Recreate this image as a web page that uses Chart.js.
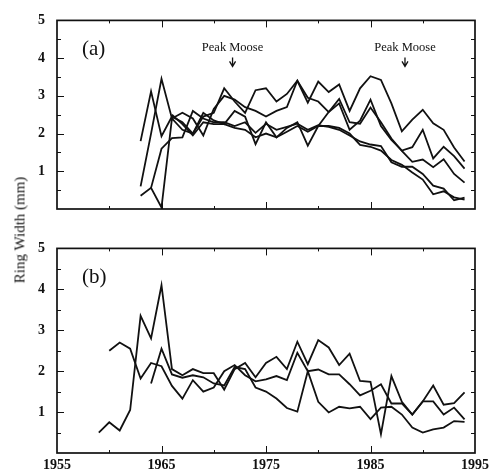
<!DOCTYPE html>
<html>
<head>
<meta charset="utf-8">
<script src="https://cdn.jsdelivr.net/npm/chart.js@4.4.1/dist/chart.umd.min.js"></script>
<style>
  body { margin: 0; background: #fff; }
  #wrap { position: relative; width: 495px; height: 474px; }
  #ca { position: absolute; left: 0; top: 0; }
  #cb { position: absolute; left: 0; top: 228px; }
  #ylab {
    position: absolute; left: 20px; top: 230px;
    transform: translate(-50%, -50%) rotate(-90deg);
    font: 15px "Liberation Serif", serif; color: #111; white-space: nowrap;
  }
</style>
</head>
<body>
<div id="wrap">
  <canvas id="ca" width="495" height="235"></canvas>
  <canvas id="cb" width="495" height="246"></canvas>
  <div id="ylab">Ring Width (mm)</div>
</div>
<script>
//years for each panel
const yearsA = [1963,1964,1965,1966,1967,1968,1969,1970,1971,1972,1973,1974,1975,1976,1977,1978,
  1979,1980,1981,1982,1983,1984,1985,1986,1987,1988,1989,1990,1991,1992,1993,1994];
const yearsB = [1959,1960,1961,1962,1963,1964,1965,1966,1967,1968,1969,1970,1971,1972,1973,1974,1975,1976,
  1977,1978,1979,1980,1981,1982,1983,1984,1985,1986,1987,1988,1989,1990,1991,1992,1993,1994];

//panel (a) ring widths, mm (null = no ring)
const treeA1 = [1.8,3.12,1.93,2.45,2.3,2.0,2.45,2.55,3.2,2.85,2.55,3.15,3.2,2.85,3.05,3.4,
  2.82,3.38,3.1,3.3,2.6,3.2,3.52,3.42,2.8,2.06,2.37,2.63,2.27,2.1,1.63,1.26];
const treeA2 = [0.6,2.0,3.45,2.4,2.55,2.4,1.95,2.65,3.0,2.9,2.7,2.6,2.45,2.6,2.7,3.4,
  2.95,2.85,2.57,2.8,2.1,2.34,2.9,2.2,1.83,1.55,1.64,2.1,1.34,1.65,1.4,1.07];
const treeA3 = [0.35,0.56,0.04,2.4,2.1,2.0,2.55,2.35,2.25,2.6,2.45,1.72,2.3,1.9,2.15,2.3,
  1.68,2.2,2.57,2.92,2.3,2.26,2.69,2.3,1.87,1.54,1.25,1.31,1.11,1.32,0.93,0.70];
const treeA4 = [null,0.56,1.6,1.88,1.9,2.6,2.4,2.3,2.3,2.2,2.3,2.02,2.26,2.1,2.18,2.26,
  2.1,2.22,2.18,2.1,1.95,1.79,1.71,1.67,1.24,1.12,1.12,0.93,0.62,0.54,0.23,0.30];
const treeA5 = [null,null,null,2.5,2.25,1.95,2.3,2.25,2.25,2.15,2.1,1.9,2.0,1.9,2.05,2.2,
  2.05,2.2,2.2,2.15,2.0,1.7,1.65,1.55,1.3,1.17,0.97,0.78,0.39,0.47,0.31,0.25];

//panel (b)
const treeB1 = [0.5,0.75,0.55,1.05,3.35,2.8,4.1,2.05,1.9,2.05,1.95,1.95,1.55,2.05,2.2,1.85,2.2,2.35,
  2.05,2.72,2.17,2.76,2.58,2.15,2.43,1.76,1.74,0.46,1.88,1.25,0.94,1.26,1.65,1.18,1.22,1.48];
const treeB2 = [null,2.5,2.7,2.55,1.82,2.2,2.12,1.64,1.33,1.78,1.5,1.6,2.0,2.15,1.9,1.75,1.8,1.88,
  1.78,2.45,2.0,2.04,1.92,1.92,1.68,1.41,1.52,1.68,1.21,1.21,0.94,1.26,1.26,0.94,1.11,0.82];
const treeB3 = [null,null,null,null,null,1.7,2.55,1.92,1.84,1.9,1.85,1.7,1.65,2.1,2.05,1.6,1.5,1.33,
  1.1,1.01,2.0,1.25,0.99,1.13,1.09,1.13,0.83,1.11,1.13,0.94,0.62,0.5,0.58,0.62,0.78,0.76];

//axis ticks
const xTickVals = [1955,1965,1975,1985,1995];
const yTickVals = [1,2,3,4,5];

//peak moose markers (year)
const moosePeaks = [1971.8, 1988.3];

const serif = '"Liberation Serif", "Times New Roman", serif';

//box, inward ticks and panel text
const frame = {
  id: 'frame',
  afterDraw(chart, args, opts) {
    const {ctx, chartArea: a} = chart;
    const x = chart.scales.x, y = chart.scales.y;
    ctx.save();
    ctx.strokeStyle = '#111';
    ctx.lineWidth = 1.7;
    ctx.strokeRect(a.left, a.top, a.right - a.left, a.bottom - a.top);
    ctx.lineWidth = 1;
    ctx.beginPath();
    for (let v = 0.5; v < 5; v += 0.5) {
      const py = Math.round(y.getPixelForValue(v)) + 0.5;
      const big = v % 1 === 0;
      ctx.moveTo(a.left, py); ctx.lineTo(a.left + (big ? 7 : 4), py);
      ctx.moveTo(a.right, py); ctx.lineTo(a.right - 4, py);
    }
    for (let yr = 1960; yr < 1995; yr += 5) {
      const px = Math.round(x.getPixelForValue(yr)) + 0.5;
      const big = yr % 10 === 5;
      ctx.moveTo(px, a.top); ctx.lineTo(px, a.top + (big ? 7 : 3));
      ctx.moveTo(px, a.bottom); ctx.lineTo(px, a.bottom - (big ? 7 : 3));
    }
    ctx.stroke();
    //panel letter
    ctx.fillStyle = '#111';
    ctx.font = '21px ' + serif;
    ctx.textAlign = 'left';
    ctx.textBaseline = 'middle';
    ctx.fillText(opts.tag, a.left + 25, a.top + 29);
    //moose annotations
    if (opts.moose) {
      ctx.font = '12.5px ' + serif;
      ctx.textAlign = 'center';
      moosePeaks.forEach(yr => {
        const px = x.getPixelForValue(yr);
        ctx.fillText('Peak Moose', px, a.top + 27);
        ctx.lineWidth = 1.3;
        ctx.beginPath();
        ctx.moveTo(px, a.top + 37); ctx.lineTo(px, a.top + 46);
        ctx.moveTo(px - 3, a.top + 41); ctx.lineTo(px, a.top + 46); ctx.lineTo(px + 3, a.top + 41);
        ctx.stroke();
      });
    }
    ctx.restore();
  }
};

function makeSets(years, list) {
  return list.map(s => ({
    data: years.map((yr, i) => ({x: yr, y: s[i]})),
    borderColor: '#111',
    borderWidth: 1.8,
    pointRadius: 0,
    tension: 0,
    fill: false
  }));
}

function panel(id, sets, opts) {
  return new Chart(document.getElementById(id), {
    type: 'line',
    data: {datasets: sets},
    options: {
      responsive: false,
      animation: false,
      layout: {padding: {left: 0, right: 20, top: opts.top, bottom: opts.bottom}},
      plugins: {legend: {display: false}, tooltip: {enabled: false}, frame: {tag: opts.tag, moose: opts.moose}},
      scales: {
        x: {
          type: 'linear', min: 1955, max: 1995,
          display: opts.showX,
          afterBuildTicks: s => { s.ticks = xTickVals.map(v => ({value: v})); },
          afterFit: s => { s.height = 21; },
          grid: {display: false, drawTicks: false},
          border: {display: false},
          ticks: {color: '#111', padding: 4, maxRotation: 0, font: {family: serif, size: 14, weight: 'bold'},
            callback: v => String(v)}
        },
        y: {
          min: 0, max: 5,
          afterBuildTicks: s => { s.ticks = yTickVals.map(v => ({value: v})); },
          afterFit: s => { s.width = 57; },
          grid: {display: false, drawTicks: false},
          border: {display: false},
          ticks: {color: '#111', padding: 12, font: {family: serif, size: 14, weight: 'bold'},
            callback: v => String(v)}
        }
      }
    },
    plugins: [frame]
  });
}

panel('ca', makeSets(yearsA, [treeA1, treeA2, treeA3, treeA4, treeA5]),
  {top: 16, bottom: 5, showX: false, tag: '(a)', moose: true});
panel('cb', makeSets(yearsB, [treeB1, treeB2, treeB3]),
  {top: 12, bottom: 0, showX: true, tag: '(b)', moose: false});
</script>
</body>
</html>
